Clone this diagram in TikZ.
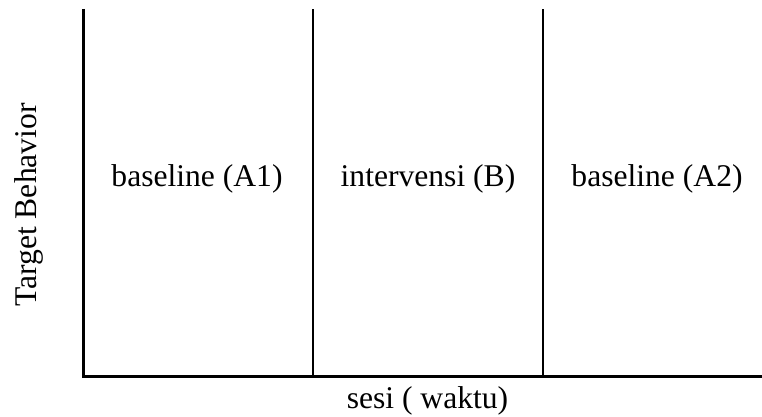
\documentclass[tikz,border=0pt]{standalone}
\usepackage{fontspec}
\setmainfont{Liberation Serif}
\begin{document}
\begin{tikzpicture}[x=1pt,y=1pt,
  axis/.style={line width=2.5pt},
  lbl/.style={font=\fontsize{31.6}{38}\selectfont, inner sep=0pt, anchor=base}]
\useasboundingbox (0,0) rectangle (762,417);
% coordinates (y measured from bottom)
\coordinate (o) at (83.3,40.5);
\coordinate (top) at (83.3,408);
\coordinate (xend) at (762,40.5);
\coordinate (d1b) at (313,40.5);
\coordinate (d1t) at (313,408);
\coordinate (d2b) at (543,40.5);
\coordinate (d2t) at (543,408);
\draw[axis] (top) -- (o) -- (xend);
\draw[axis] (d1b) -- (d1t);
\draw[axis] (d2b) -- (d2t);
\node[lbl] (a1) at (197,230) {baseline (A1)};
\node[lbl] (b) at (428,230) {intervensi (B)};
\node[lbl] (a2) at (657,230) {baseline (A2)};
\node[lbl] (x) at (427.5,8) {sesi ( waktu)};
\node[lbl, rotate=90] (y) at (36,212) {Target Behavior};
\end{tikzpicture}
\end{document}
